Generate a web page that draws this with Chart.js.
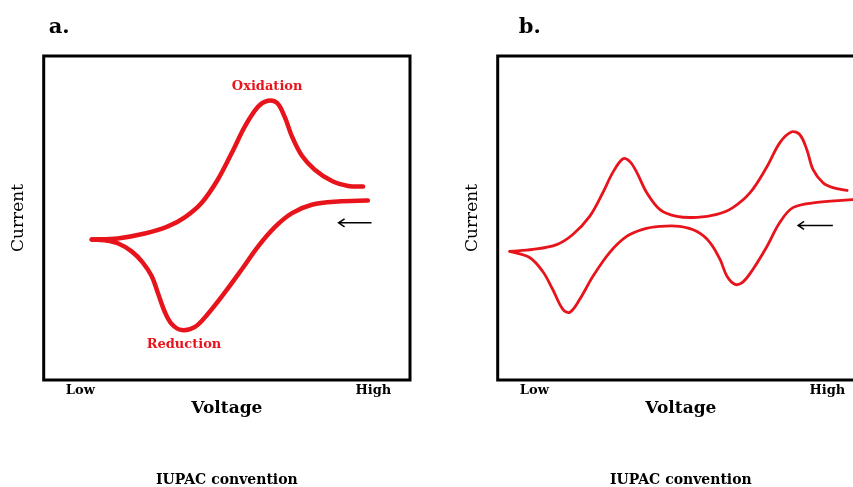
<!DOCTYPE html>
<html>
<head>
<meta charset="utf-8">
<script src="https://cdn.jsdelivr.net/npm/chart.js@4.4.1/dist/chart.umd.min.js"></script>
<style>
  html, body { margin: 0; padding: 0; background: #fff; overflow: hidden; }
  body { width: 853px; height: 487px; position: relative; }
  .panel { position: absolute; top: 0; width: 430px; height: 487px; }
</style>
</head>
<body>
<div class="panel" style="left:0"><canvas id="chartA"></canvas></div>
<div class="panel" style="left:454px"><canvas id="chartB"></canvas></div>
<script>
// voltage axis runs 0..100 (Low -> High), current is in arbitrary units
var voltageTicks = [10, 90];
var voltageTickLabels = ['Low', 'High'];

// panel a: one redox couple
var aUpperV = [13.1, 20.2, 27.6, 33.9, 38.5, 43.2, 47.5, 51.4, 54.9, 58.5, 61.2, 63.7, 65.8, 67.8, 70.5, 74.0, 78.7, 83.1, 87.2];
var aUpperI = [-6.6, -6.3, -4.8, -2.6, 0.2, 4.8, 11.8, 20.2, 28.2, 34.3, 36.2, 35.5, 31.2, 25.1, 19.2, 14.9, 11.4, 9.9, 9.7];
var aLowerV = [13.1, 16.7, 20.2, 24.0, 27.0, 29.5, 31.1, 33.1, 35.0, 37.7, 41.3, 44.8, 49.5, 54.1, 58.5, 63.1, 67.8, 73.2, 80.3, 88.5];
var aLowerI = [-6.6, -6.9, -7.8, -10.3, -13.7, -18.0, -22.9, -29.1, -32.8, -34.6, -33.6, -29.6, -22.9, -15.8, -8.8, -2.8, 1.5, 4.1, 5.1, 5.4];

// panel b: two redox couples
var bUpperV = [3.3, 9.6, 16.1, 20.5, 25.1, 28.7, 31.4, 34.2, 36.1, 38.0, 40.7, 44.3, 48.9, 54.4, 59.8, 64.2, 68.9, 73.5, 77.0, 80.3, 82.5, 84.4, 86.1, 88.8, 91.5, 95.4];
var bUpperI = [-10.3, -9.7, -8.2, -5.1, 0.5, 7.8, 14.0, 18.3, 17.4, 14.0, 7.8, 2.6, 0.5, 0.2, 1.1, 3.2, 7.8, 15.8, 23.2, 26.6, 25.7, 21.1, 14.9, 10.9, 9.4, 8.5];
var bLowerV = [3.3, 8.7, 12.3, 15.0, 17.8, 19.7, 22.4, 26.0, 30.6, 35.2, 39.6, 44.3, 49.7, 54.4, 57.9, 60.7, 62.6, 64.8, 66.9, 69.7, 73.5, 77.0, 80.6, 87.2, 97.0, 100.0];
var bLowerI = [-10.3, -12.2, -16.5, -22.0, -28.2, -29.1, -25.1, -18.0, -10.6, -5.7, -3.5, -2.6, -2.6, -4.2, -7.5, -12.8, -18.0, -20.5, -19.8, -15.8, -8.8, -1.4, 3.2, 4.8, 5.7, 5.9];

// peak labels and scan arrow, in data units
var aLabels = [{ text: 'Oxidation', v: 61, i: 40.5 }, { text: 'Reduction', v: 38.3, i: -39.2 }];
var aArrow = { from: 89.5, to: 80.5, i: -1.5 };
var bLabels = [];
var bArrow = { from: 91.5, to: 82.0, i: -2.3 };

var RED = '#e8141c';

function pts(xs, ys) {
  return xs.map(function (x, k) { return { x: x, y: ys[k] }; });
}

var decorPlugin = {
  id: 'decor',
  afterDraw: function (chart, args, opts) {
    var ctx = chart.ctx, a = chart.chartArea;
    var xs = chart.scales.x, ys = chart.scales.y;
    ctx.save();
    // frame round the plot
    ctx.strokeStyle = '#000';
    ctx.lineWidth = 3;
    ctx.strokeRect(a.left, a.top, a.right - a.left, a.bottom - a.top);
    // panel letter
    ctx.fillStyle = '#000';
    ctx.font = 'bold 21px "DejaVu Serif"';
    ctx.textBaseline = 'middle';
    ctx.textAlign = 'left';
    ctx.fillText(opts.letter, a.left + opts.letterDx, 28);
    // peak labels
    ctx.fillStyle = RED;
    ctx.font = 'bold 13px "DejaVu Serif"';
    ctx.textAlign = 'center';
    opts.labels.forEach(function (l) {
      ctx.fillText(l.text, xs.getPixelForValue(l.v), ys.getPixelForValue(l.i));
    });
    // scan direction arrow
    var x0 = xs.getPixelForValue(opts.arrow.from);
    var x1 = xs.getPixelForValue(opts.arrow.to);
    var y = ys.getPixelForValue(opts.arrow.i);
    ctx.strokeStyle = '#000';
    ctx.lineWidth = 1.5;
    ctx.beginPath();
    ctx.moveTo(x0, y);
    ctx.lineTo(x1, y);
    ctx.moveTo(x1 + 6, y - 4);
    ctx.lineTo(x1, y);
    ctx.lineTo(x1 + 6, y + 4);
    ctx.stroke();
    ctx.restore();
  }
};

function makeChart(id, upper, lower, width, letter, letterDx, labels, arrow) {
  var ds = function (data) {
    return {
      data: data,
      showLine: true,
      borderColor: RED,
      borderWidth: width,
      borderCapStyle: 'round',
      borderJoinStyle: 'round',
      pointRadius: 0,
      tension: 0.35,
      fill: false
    };
  };
  return new Chart(document.getElementById(id), {
    type: 'scatter',
    data: { datasets: [ds(upper), ds(lower)] },
    options: {
      responsive: true,
      maintainAspectRatio: false,
      animation: false,
      layout: { padding: { left: 0, right: 20, top: 56, bottom: 0 } },
      plugins: {
        legend: { display: false },
        tooltip: { enabled: false },
        subtitle: {
          display: true,
          text: 'IUPAC convention',
          position: 'bottom',
          fullSize: false,
          color: '#000',
          font: { family: 'DejaVu Serif', size: 14, weight: 'bold', lineHeight: 1.0 },
          padding: { top: 56, bottom: 0 }
        },
        decor: { letter: letter, letterDx: letterDx, labels: labels, arrow: arrow }
      },
      scales: {
        x: {
          type: 'linear',
          min: 0,
          max: 100,
          grid: { display: false, drawTicks: false },
          border: { display: false },
          afterBuildTicks: function (scale) {
            scale.ticks = voltageTicks.map(function (v) { return { value: v }; });
          },
          ticks: {
            padding: 4,
            color: '#000',
            maxRotation: 0,
            autoSkip: false,
            font: { family: 'DejaVu Serif', size: 13, weight: 'bold', lineHeight: 1.0 },
            callback: function (v) {
              var k = voltageTicks.indexOf(v);
              return k < 0 ? '' : voltageTickLabels[k];
            }
          },
          title: {
            display: true,
            text: 'Voltage',
            color: '#000',
            font: { family: 'DejaVu Serif', size: 17, weight: 'bold', lineHeight: 1.0 },
            padding: { top: -1, bottom: 0 }
          }
        },
        y: {
          type: 'linear',
          min: -50,
          max: 50,
          grid: { display: false, drawTicks: false },
          border: { display: false },
          ticks: { display: false },
          title: {
            display: true,
            text: 'Current',
            color: '#000',
            font: { family: 'DejaVu Serif', size: 17, lineHeight: 1.1 },
            padding: { top: 9, bottom: 16 }
          }
        }
      }
    },
    plugins: [decorPlugin]
  });
}

makeChart('chartA', pts(aUpperV, aUpperI), pts(aLowerV, aLowerI), 4.5, 'a.', 5, aLabels, aArrow);
makeChart('chartB', pts(bUpperV, bUpperI), pts(bLowerV, bLowerI), 2.8, 'b.', 21, bLabels, bArrow);
</script>
</body>
</html>
